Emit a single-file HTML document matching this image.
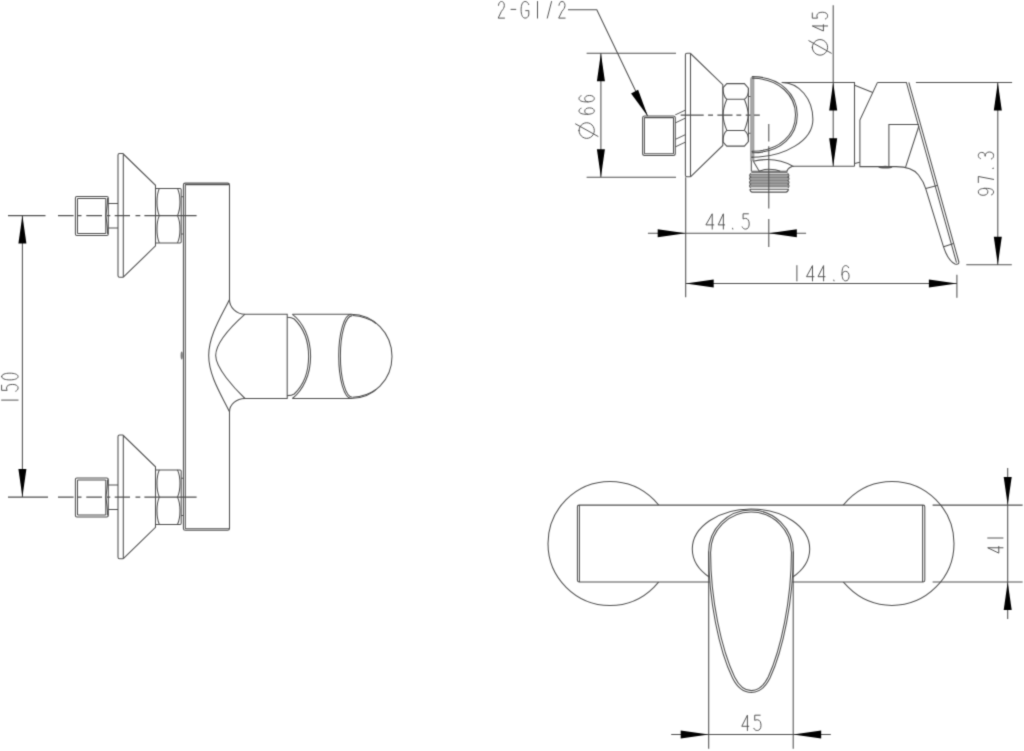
<!DOCTYPE html>
<html><head><meta charset="utf-8"><title>Drawing</title>
<style>html,body{margin:0;padding:0;background:#fff;}svg{display:block;}</style>
</head><body>
<svg width="1024" height="751" viewBox="0 0 1024 751">
<defs><filter id="bl" color-interpolation-filters="sRGB" filterUnits="userSpaceOnUse" x="0" y="0" width="1024" height="751"><feConvolveMatrix order="3" kernelMatrix="0.0225 0.1050 0.0225 0.1050 0.4900 0.1050 0.0225 0.1050 0.0225" divisor="1" edgeMode="none"/></filter></defs>
<rect width="1024" height="751" fill="#fff"/>
<g filter="url(#bl)">
<g fill="none" stroke="#505050" stroke-width="1.05" stroke-linecap="butt">
<path d="M8,215.6 H45.5 M8,497.1 H48 M22.4,216 V497" />
<path d="M22.40,215.60 L26.40,243.60 L18.40,243.60Z" fill="#000" stroke="none"/>
<path d="M22.40,497.10 L26.40,469.10 L18.40,469.10Z" fill="#000" stroke="none"/>
<path d="M76.9,196.5 H106.8 Q108.3,196.5 108.3,198.0 V234.0 Q108.3,235.5 106.8,235.5 H76.9 Q75.4,235.5 75.4,234.0 V198.0 Q75.4,196.5 76.9,196.5Z" />
<path d="M77.5,198.4 V233.5 M77.5,198.4 H105.8 M77.5,233.5 H105.8 M105.8,198.4 V233.5" />
<path d="M107.6,198.0 C107.6,204.6 106.3,211.6 105.9,215.6 C106.3,219.6 107.6,226.6 107.6,234.0" />
<path d="M108.3,203.5 H118 M108.3,227.9 H118" />
<path d="M123.3,153.5 H119.6 Q118,153.5 118,155.1 V275.7 Q118,277.3 119.6,277.3 H123.3" />
<path d="M123.3,153.5 V277.3" />
<path d="M123.3,154.0 L155.5,185.29999999999998 V245.9 L123.3,277.2" />
<path d="M155.5,188.4 H180 Q181.2,188.4 181.2,189.6 V241.7 Q181.2,242.9 180,242.9 H155.5" />
<path d="M159.3,188.4 C156.2,195.6 156.2,208.6 159.3,215.6 C156.2,222.6 156.2,235.6 159.3,242.9" />
<path d="M177.5,188.4 C180.8,195.6 180.8,208.6 177.5,215.6 C180.8,222.6 180.8,235.6 177.5,242.9" />
<path d="M181.2,196.79999999999998 H183.4 M181.2,234.0 H183.4" />
<path d="M58,215.6 H73.6 M77.3,215.6 H81.5 M86.3,215.6 H102 M107,215.6 H110.3 M114.7,215.6 H130 M135.5,215.6 H140.3 M144.4,215.6 H196.6" />
<path d="M76.9,478.0 H106.8 Q108.3,478.0 108.3,479.5 V515.5 Q108.3,517.0 106.8,517.0 H76.9 Q75.4,517.0 75.4,515.5 V479.5 Q75.4,478.0 76.9,478.0Z" />
<path d="M77.5,479.90000000000003 V515.0 M77.5,479.90000000000003 H105.8 M77.5,515.0 H105.8 M105.8,479.90000000000003 V515.0" />
<path d="M107.6,479.5 C107.6,486.1 106.3,493.1 105.9,497.1 C106.3,501.1 107.6,508.1 107.6,515.5" />
<path d="M108.3,485.0 H118 M108.3,509.40000000000003 H118" />
<path d="M123.3,435.0 H119.6 Q118,435.0 118,436.6 V557.2 Q118,558.8000000000001 119.6,558.8000000000001 H123.3" />
<path d="M123.3,435.0 V558.8000000000001" />
<path d="M123.3,435.5 L155.5,466.8 V527.4 L123.3,558.7" />
<path d="M155.5,469.90000000000003 H180 Q181.2,469.90000000000003 181.2,471.1 V523.2 Q181.2,524.4 180,524.4 H155.5" />
<path d="M159.3,469.90000000000003 C156.2,477.1 156.2,490.1 159.3,497.1 C156.2,504.1 156.2,517.1 159.3,524.4" />
<path d="M177.5,469.90000000000003 C180.8,477.1 180.8,490.1 177.5,497.1 C180.8,504.1 180.8,517.1 177.5,524.4" />
<path d="M181.2,478.3 H183.4 M181.2,515.5 H183.4" />
<path d="M58,497.1 H73.6 M77.3,497.1 H81.5 M86.3,497.1 H102 M107,497.1 H110.3 M114.7,497.1 H130 M135.5,497.1 H140.3 M144.4,497.1 H196.6" />
<path d="M183.4,528.4 V185 Q183.4,183.1 185.3,183.1 H227.6 Q229.5,183.1 229.5,185 V299.4 A15.5,14.8 0 0 0 245,314.2 H287.2 V398.5 H245 A15.5,13.4 0 0 0 229.5,411.9 V528.4 Q229.5,530.3 227.6,530.3 H185.3 Q183.4,530.3 183.4,528.4" />
<path d="M185.3,184.6 V528.7 M185.3,184.6 H229 M185.3,528.7 H229" />
<path d="M229.5,299.4 C222,315 208.7,335 208.7,355.6 C208.7,376 222,396 229.5,411.9" />
<path d="M245,314.2 C234,324 215.7,342 215.7,355.6 C215.7,368 234,388 245,398.5" />
<path d="M292.4,314.3 C303,322 310.6,338 310.6,356.4 C310.6,375 303,390 292.4,398.5" />
<path d="M287.2,317.3 C290,317.3 292.5,317.8 294.2,319 C302.5,327 308.6,340 308.6,356.4 C308.6,373 302.5,386 294.2,394 C292.5,395.2 290,395.6 287.2,395.6" />
<path d="M292.4,314.3 H351 M292.4,398.5 H351" />
<path d="M351.3,314.3 C344.3,314.3 338.7,332.7 338.7,356 C338.7,379.5 344.3,398.5 351.3,398.5" />
<path d="M352.3,315.6 C345.8,315.6 340.4,333.4 340.4,356 C340.4,378.8 345.8,397.2 352.3,397.2" />
<path d="M351,314.3 C373.6,314.3 392,333.2 392,356.4 C392,379.6 373.6,398.5 351,398.5" />
<path d="M352.6,315.6 C362,316.2 370,319 376,323.5 M352.6,397.2 C362,396.6 370,393.8 376,389.3" />
<ellipse cx="181.7" cy="355.6" rx="1.1" ry="4" fill="#777" stroke="none"/>
<path d="M568,9.8 H596.8 L647.6,116" />
<path d="M647.80,116.20 L631.08,93.49 L638.12,89.71Z" fill="#000" stroke="none"/>
<path d="M586.6,53.2 H676 M586.6,177.3 H676 M600.9,53.5 V177" />
<path d="M600.90,53.20 L604.90,81.20 L596.90,81.20Z" fill="#000" stroke="none"/>
<path d="M600.90,177.30 L604.90,149.30 L596.90,149.30Z" fill="#000" stroke="none"/>
<path d="M644.6,116 H673.3 Q675.3,116 675.3,118 V153.4 Q675.3,155.4 673.3,155.4 H644.6 Q642.6,155.4 642.6,153.4 V118 Q642.6,116 644.6,116Z" />
<path d="M644.4,117.6 V153.8 M673.5,117.6 V153.8 M644.4,117.6 H673.5 M644.4,153.8 H673.5" />
<path d="M675.3,114.9 L685.4,110.1 M675.3,122.9 L685.4,118.1 M675.3,139.4 L685.4,134.6 M675.3,146.9 L685.4,142.1" />
<path d="M690.5,53.2 H687 Q685.4,53.2 685.4,54.8 V175.2 Q685.4,176.8 687,176.8 H690.5 M690.5,53.2 V176.8" />
<path d="M690.5,53.5 L722.8,84.7 V145.5 L690.5,176.8" />
<path d="M723.1,87.6 L726.8,83.6 H744.4 L748.4,88.1 V141.6 L744.4,146.1 H726.8 L723.1,142.1" />
<path d="M726.8,99.3 H744.4 M726.8,130.4 H744.4" />
<path d="M723.1,87.6 C722.9,93 724,97 726.8,99.3 M748.4,88.1 C748.8,93 747.5,97 744.4,99.3" />
<path d="M723.1,142.1 C722.9,136.7 724,132.7 726.8,130.4 M748.4,141.6 C748.8,136.7 747.5,132.7 744.4,130.4" />
<path d="M726.8,99.3 C724,106 723.1,110 723.1,114.85 C723.1,119.7 724,123.7 726.8,130.4" />
<path d="M744.4,99.3 C747,106 748.2,110 748.2,114.85 C748.2,119.7 747,123.7 744.4,130.4" />
<path d="M748.4,96.4 H751 M748.4,133.3 H751" />
<path d="M680.7,115.1 H703.7 M708.1,115.1 H713 M717.4,115.1 H732.5 M736.4,115.1 H741.3 M745.7,115.1 H759.8" />
<path d="M750.6,160.8 V79 Q750.6,76.6 753,76.4 L754,76.4 V160.8Z" fill="#a8a8a8" stroke="#888" stroke-width="0.6"/>
<path d="M752,76.6 C781,76.6 797.3,95 797.3,114.7 C797.3,135 782,152.8 752,152.8 M752,78.3 C779.6,78.3 795.5,96 795.5,114.7 C795.5,134 780.6,151.2 752,151.2" />
<path d="M782,82.4 C799.1,82.4 812.9,99 812.9,119.4 C812.9,140.3 785.3,157.2 751.4,157.2" />
<path d="M751.4,151.8 H753.4 M751.4,157.2 H753.4" />
<path d="M781.6,82.4 H854.5 V166.3 M792.9,166.3 H854.5" />
<path d="M753,161.2 C765,158.6 780,158.6 792.9,166.3 C790,167 787.8,169 786.8,171.2" />
<path d="M751.3,160.8 V171.3 M753.5,161.5 L759.2,171.2 C763,169.6 766,169.2 768.5,169.2 C773,169.2 777,169.6 780.2,171.3" />
<path d="M751.3,171.3 H787.5 M751.3,172.8 H787.5" />
<path d="M750.2,174 H788.4 V187.6 H750.2Z" fill="#a0a0a0" stroke="none"/>
<path d="M750.5,174.6 H788 M750.5,177.4 H788 M750.5,180.3 H788 M750.5,183.2 H788 M750.5,186.1 H788" stroke="#777" stroke-width="0.8"/>
<path d="M751,173.4 Q748.6,175.2 750.6,177 Q748.6,178.8 750.6,180.6 Q748.6,182.4 750.6,184.2 Q748.6,186 750.6,187.8" />
<path d="M787.6,173.4 Q790,175.2 788,177 Q790,178.8 788,180.6 Q790,182.4 788,184.2 Q790,186 788,187.8" />
<path d="M749.9,189.2 H788.5 M749.9,189.2 Q750.3,192.1 752.3,192.1 H786 Q788,192.1 788.5,189.2" />
<path d="M768.8,124.1 V141.5 M768.8,146.3 V208.5 M768.8,219 V247.1" />
<path d="M833.2,5.3 V166.3" />
<path d="M833.20,82.40 L837.20,110.40 L829.20,110.40Z" fill="#000" stroke="none"/>
<path d="M833.20,166.30 L837.20,138.30 L829.20,138.30Z" fill="#000" stroke="none"/>
<path d="M854.6,85.3 L872.8,92.4" />
<path d="M877.5,82.4 L859.9,120 V166.6 H896 C906,166.6 914,169 918.5,175 C922,179.5 924.5,184.5 925.7,188.6 L943.6,247.2 C946.5,256 951,262 955,264 C957,264.8 958.5,264 959,262.5" />
<path d="M877.5,82.4 H906.4 L956.5,262.6 M908.8,82.4 L959,262.5" />
<path d="M888.9,166 V124.5 H918.8 M918.9,126 L905.6,167.2" />
<path d="M854.6,163.4 L859.9,162.3" />
<path d="M925.7,188.6 L937.2,185.5 M943.6,246.8 L953.6,243.4" />
<ellipse cx="885.4" cy="167.2" rx="7" ry="1.35" fill="#555" stroke="none"/>
<path d="M915.9,82.4 H1012.1 M966.3,264.8 H1011.8 M997.8,82.4 V264.8" />
<path d="M997.80,82.40 L1001.80,110.40 L993.80,110.40Z" fill="#000" stroke="none"/>
<path d="M997.80,264.80 L1001.80,236.80 L993.80,236.80Z" fill="#000" stroke="none"/>
<path d="M647.9,233.2 H806.1" />
<path d="M685.70,233.20 L657.70,229.20 L657.70,237.20Z" fill="#000" stroke="none"/>
<path d="M768.80,233.20 L796.80,229.20 L796.80,237.20Z" fill="#000" stroke="none"/>
<path d="M685.7,177.3 V297.2 M956.9,274.8 V297.8 M685.7,283.4 H956.9" />
<path d="M685.70,283.40 L713.70,279.40 L713.70,287.40Z" fill="#000" stroke="none"/>
<path d="M956.90,283.40 L928.90,279.40 L928.90,287.40Z" fill="#000" stroke="none"/>
<circle cx="610" cy="543.5" r="62"/>
<circle cx="892" cy="543.4" r="62"/>
<path d="M579,505.1 H923.2 Q924.8,505.1 924.8,506.7 V580.3 Q924.8,581.9 923.2,581.9 H579 Q577.4,581.9 577.4,580.3 V506.7 Q577.4,505.1 579,505.1Z" fill="#fff"/>
<path d="M579.4,505.1 V581.9 M922.6,505.1 V581.9" />
<ellipse cx="751" cy="549" rx="58.7" ry="40"/>
<path d="M708.6,552.4 A42.4,42.4 0 0 1 793.4,552.4 C793.4,600 783,650 770,678 C765,688 758,692.5 751.4,692.5 C744.5,692.5 737.5,688 732.5,678 C719,650 708.6,600 708.6,552.4Z" fill="#fff"/>
<path d="M710.6,552.4 A40.4,40.4 0 0 1 791.4,552.4 C791.4,600 781,649 768.2,677 C763.5,686.5 757.5,690.6 751.4,690.6 C745.3,690.6 739.3,686.5 734.6,677 C721.5,649 710.6,600 710.6,552.4Z" />
<path d="M708.7,551.5 V748.7 M793.2,551.5 V748.7" />
<path d="M671.2,734.4 H830.8" />
<path d="M708.70,734.40 L680.70,730.40 L680.70,738.40Z" fill="#000" stroke="none"/>
<path d="M793.20,734.40 L821.20,730.40 L821.20,738.40Z" fill="#000" stroke="none"/>
<path d="M932.6,505.1 H1022.6 M932.6,581.9 H1022.6 M1007.7,468 V619" />
<path d="M1007.70,505.10 L1011.70,477.10 L1003.70,477.10Z" fill="#000" stroke="none"/>
<path d="M1007.70,581.90 L1011.70,609.90 L1003.70,609.90Z" fill="#000" stroke="none"/>
</g>
<g fill="none" stroke-linecap="round" stroke-linejoin="round">
<path transform="translate(18.10,403.60) rotate(-90) scale(1,1.03125)" d="M3.5,-16 V0" stroke="#555" stroke-width="1" vector-effect="non-scaling-stroke"/>
<path transform="translate(18.10,391.20) rotate(-90) scale(0.97,1.03125)" d="M6.2,-16 H0.9 L0.9,-10.6 C1.6,-11 2.5,-11.2 3.4,-11.2 C5.7,-11.2 7,-8.8 7,-5.4 C7,-2 5.6,0 3.4,0 C1.8,0 0.6,-0.8 0,-2.3" stroke="#555" stroke-width="1" vector-effect="non-scaling-stroke"/>
<path transform="translate(18.10,379.90) rotate(-90) scale(0.96,1.03125)" d="M3.5,-16 C1.2,-16 0,-12.5 0,-8 C0,-3.5 1.2,0 3.5,0 C5.8,0 7,-3.5 7,-8 C7,-12.5 5.8,-16 3.5,-16Z" stroke="#555" stroke-width="1" vector-effect="non-scaling-stroke"/>
<path transform="translate(498.20,18.10) scale(0.9,1.0375)" d="M0.3,-12.3 C0.6,-14.8 2,-16 3.6,-16 C5.5,-16 6.8,-14.6 6.8,-12.2 C6.8,-10 5.6,-8.6 3.6,-6.6 L0,0 H7" stroke="#555" stroke-width="1" vector-effect="non-scaling-stroke"/>
<path transform="translate(510.60,18.10) scale(1,1.0375)" d="M0.4,-8.4 H5.2" stroke="#555" stroke-width="1" vector-effect="non-scaling-stroke"/>
<path transform="translate(521.10,18.10) scale(1.1,1.0375)" d="M7,-13 C6.4,-15 5.1,-16 3.6,-16 C1.2,-16 0,-12.5 0,-8 C0,-3.5 1.2,0 3.6,0 C5.3,0 6.4,-1 7,-3 V-7.2 H4.2" stroke="#555" stroke-width="1" vector-effect="non-scaling-stroke"/>
<path transform="translate(534.00,18.10) scale(1,1.0375)" d="M3.5,-16 V0" stroke="#555" stroke-width="1" vector-effect="non-scaling-stroke"/>
<path transform="translate(546.80,18.10) scale(0.95,1.0375)" d="M0.5,0 L5,-16" stroke="#555" stroke-width="1" vector-effect="non-scaling-stroke"/>
<path transform="translate(558.70,18.10) scale(0.92,1.0375)" d="M0.3,-12.3 C0.6,-14.8 2,-16 3.6,-16 C5.5,-16 6.8,-14.6 6.8,-12.2 C6.8,-10 5.6,-8.6 3.6,-6.6 L0,0 H7" stroke="#555" stroke-width="1" vector-effect="non-scaling-stroke"/>
<path transform="translate(594.30,138.40) rotate(-90) scale(0.98,0.95625)" d="M8,-16 A8,8 0 1 0 8.01,-16Z M2,3.9 L14.8,-19.6" stroke="#555" stroke-width="1" vector-effect="non-scaling-stroke"/>
<path transform="translate(594.30,114.30) rotate(-90) scale(0.92,0.95625)" d="M6.6,-13.8 C6.1,-15.2 5,-16 3.6,-16 C1.3,-16 0,-13 0,-8 C0,-2.8 1.3,0 3.5,0 C5.7,0 7,-2 7,-5 C7,-8 5.7,-10 3.5,-10 C1.6,-10 0.3,-8.7 0,-6.5" stroke="#555" stroke-width="1" vector-effect="non-scaling-stroke"/>
<path transform="translate(594.30,101.90) rotate(-90) scale(0.92,0.95625)" d="M6.6,-13.8 C6.1,-15.2 5,-16 3.6,-16 C1.3,-16 0,-13 0,-8 C0,-2.8 1.3,0 3.5,0 C5.7,0 7,-2 7,-5 C7,-8 5.7,-10 3.5,-10 C1.6,-10 0.3,-8.7 0,-6.5" stroke="#555" stroke-width="1" vector-effect="non-scaling-stroke"/>
<path transform="translate(827.60,55.20) rotate(-90) scale(0.98,0.95625)" d="M8,-16 A8,8 0 1 0 8.01,-16Z M2,3.9 L14.8,-19.6" stroke="#555" stroke-width="1" vector-effect="non-scaling-stroke"/>
<path transform="translate(827.60,31.00) rotate(-90) scale(0.9,0.95625)" d="M5.6,0 V-16 L0,-4.4 H7" stroke="#555" stroke-width="1" vector-effect="non-scaling-stroke"/>
<path transform="translate(827.60,19.00) rotate(-90) scale(0.97,0.95625)" d="M6.2,-16 H0.9 L0.9,-10.6 C1.6,-11 2.5,-11.2 3.4,-11.2 C5.7,-11.2 7,-8.8 7,-5.4 C7,-2 5.6,0 3.4,0 C1.8,0 0.6,-0.8 0,-2.3" stroke="#555" stroke-width="1" vector-effect="non-scaling-stroke"/>
<path transform="translate(993.60,195.30) rotate(-90) scale(1,0.95625)" d="M0.4,-2.2 C0.9,-0.8 2,0 3.4,0 C5.7,0 7,-3 7,-8 C7,-13.2 5.7,-16 3.5,-16 C1.3,-16 0,-14 0,-11 C0,-8 1.3,-6 3.5,-6 C5.4,-6 6.7,-7.3 7,-9.5" stroke="#555" stroke-width="1" vector-effect="non-scaling-stroke"/>
<path transform="translate(993.60,182.50) rotate(-90) scale(0.86,0.95625)" d="M0,-16 H7 L3.6,0" stroke="#555" stroke-width="1" vector-effect="non-scaling-stroke"/>
<path transform="translate(993.60,171.70) rotate(-90) scale(1,0.95625)" d="M3.3,-0.9 L3.5,0" stroke="#555" stroke-width="1" vector-effect="non-scaling-stroke"/>
<path transform="translate(993.60,159.00) rotate(-90) scale(1,0.95625)" d="M0.4,-13.8 C0.9,-15.2 2.1,-16 3.5,-16 C5.4,-16 6.6,-14.6 6.6,-12.4 C6.6,-10.2 5.2,-8.8 3.1,-8.8 M3.1,-8.8 C5.6,-8.8 7,-7.1 7,-4.4 C7,-1.6 5.6,0 3.5,0 C1.8,0 0.6,-0.8 0,-2.3" stroke="#555" stroke-width="1" vector-effect="non-scaling-stroke"/>
<path transform="translate(705.90,229.10) scale(1.13,0.95625)" d="M5.6,0 V-16 L0,-4.4 H7" stroke="#555" stroke-width="1" vector-effect="non-scaling-stroke"/>
<path transform="translate(718.20,229.10) scale(0.92,0.95625)" d="M5.6,0 V-16 L0,-4.4 H7" stroke="#555" stroke-width="1" vector-effect="non-scaling-stroke"/>
<path transform="translate(729.30,229.10) scale(1,0.95625)" d="M3.3,-0.9 L3.5,0" stroke="#555" stroke-width="1" vector-effect="non-scaling-stroke"/>
<path transform="translate(742.20,229.10) scale(1,0.95625)" d="M6.2,-16 H0.9 L0.9,-10.6 C1.6,-11 2.5,-11.2 3.4,-11.2 C5.7,-11.2 7,-8.8 7,-5.4 C7,-2 5.6,0 3.4,0 C1.8,0 0.6,-0.8 0,-2.3" stroke="#555" stroke-width="1" vector-effect="non-scaling-stroke"/>
<path transform="translate(793.40,280.90) scale(1,0.95625)" d="M3.5,-16 V0" stroke="#555" stroke-width="1" vector-effect="non-scaling-stroke"/>
<path transform="translate(806.50,280.90) scale(1.07,0.95625)" d="M5.6,0 V-16 L0,-4.4 H7" stroke="#555" stroke-width="1" vector-effect="non-scaling-stroke"/>
<path transform="translate(818.00,280.90) scale(1.0,0.95625)" d="M5.6,0 V-16 L0,-4.4 H7" stroke="#555" stroke-width="1" vector-effect="non-scaling-stroke"/>
<path transform="translate(830.50,280.90) scale(1,0.95625)" d="M3.3,-0.9 L3.5,0" stroke="#555" stroke-width="1" vector-effect="non-scaling-stroke"/>
<path transform="translate(842.00,280.90) scale(1.01,0.95625)" d="M6.6,-13.8 C6.1,-15.2 5,-16 3.6,-16 C1.3,-16 0,-13 0,-8 C0,-2.8 1.3,0 3.5,0 C5.7,0 7,-2 7,-5 C7,-8 5.7,-10 3.5,-10 C1.6,-10 0.3,-8.7 0,-6.5" stroke="#555" stroke-width="1" vector-effect="non-scaling-stroke"/>
<path transform="translate(741.80,730.50) scale(1,0.95625)" d="M5.6,0 V-16 L0,-4.4 H7" stroke="#555" stroke-width="1" vector-effect="non-scaling-stroke"/>
<path transform="translate(753.80,730.50) scale(1.03,0.95625)" d="M6.2,-16 H0.9 L0.9,-10.6 C1.6,-11 2.5,-11.2 3.4,-11.2 C5.7,-11.2 7,-8.8 7,-5.4 C7,-2 5.6,0 3.4,0 C1.8,0 0.6,-0.8 0,-2.3" stroke="#555" stroke-width="1" vector-effect="non-scaling-stroke"/>
<path transform="translate(1003.00,553.10) rotate(-90) scale(0.95,0.95625)" d="M5.6,0 V-16 L0,-4.4 H7" stroke="#555" stroke-width="1" vector-effect="non-scaling-stroke"/>
<path transform="translate(1003.00,541.50) rotate(-90) scale(1,0.95625)" d="M3.5,-16 V0" stroke="#555" stroke-width="1" vector-effect="non-scaling-stroke"/>
</g>
</g>
</svg>
</body></html>
